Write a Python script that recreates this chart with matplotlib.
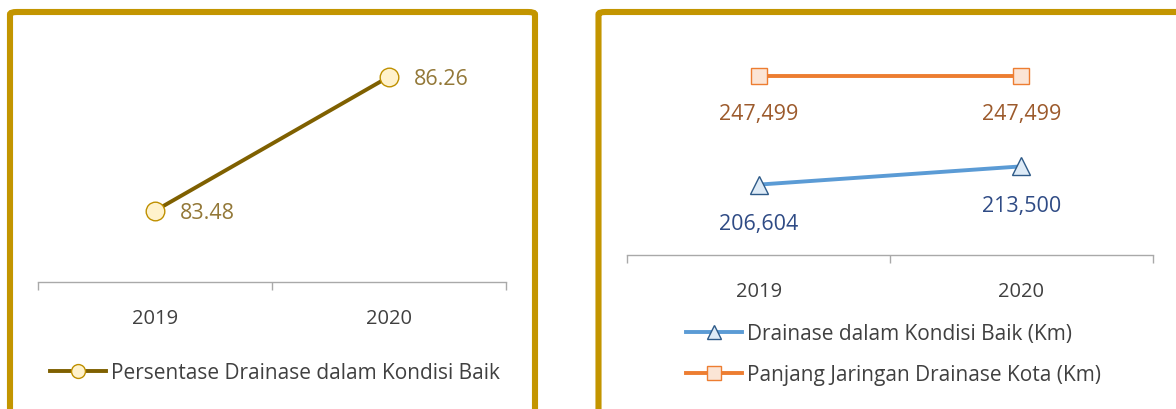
import matplotlib
matplotlib.use("Agg")
import matplotlib.pyplot as plt
from matplotlib.lines import Line2D
from matplotlib.patches import FancyBboxPatch

plt.rcParams['font.family'] = ['Open Sans', 'DejaVu Sans']

# data
tahun = ['2019', '2020']
persen_baik = [83.48, 86.26]
persen_label = ['83.48', '86.26']
drainase_baik = [206604, 213500]
drainase_baik_label = ['206,604', '213,500']
panjang_jaringan = [247499, 247499]
panjang_label = ['247,499', '247,499']

W, H = 1176, 410
fig = plt.figure(figsize=(W / 100, H / 100), dpi=100)

def fx(px):
    return px / W

def fy(py):
    return 1 - py / H

# gold frames round the two panels
gold = '#C39500'
for x0, x1 in [(10, 535), (598.5, 1200)]:
    box = FancyBboxPatch((fx(x0), fy(440)), fx(x1) - fx(x0), fy(13) - fy(440),
                         boxstyle='round,pad=0,rounding_size=0.006',
                         transform=fig.transFigure, fill=False,
                         edgecolor=gold, linewidth=4.4, clip_on=False)
    fig.patches.append(box)

axis_grey = '#A9A9A9'
tick_col = '#404040'

def style_axis(ax):
    for s in ['left', 'right', 'top']:
        ax.spines[s].set_visible(False)
    ax.spines['bottom'].set_color(axis_grey)
    ax.spines['bottom'].set_linewidth(1.0)
    ax.set_xlim(-0.5, 1.5)
    ax.set_xticks([0, 1])
    ax.set_xticklabels(tahun, fontsize=14.5, color=tick_col)
    ax.set_xticks([-0.5, 0.5, 1.5], minor=True)
    ax.tick_params(axis='x', which='major', length=0, pad=19)
    ax.tick_params(axis='x', which='minor', length=6, width=1.0, color=axis_grey, direction='out')
    ax.set_yticks([])
    ax.patch.set_alpha(0)

# ---- kiri: persentase
ax1 = fig.add_axes([fx(38.3), fy(283), fx(506) - fx(38.3), fy(42) - fy(283)])
style_axis(ax1)
ax1.set_ylim(82, 87)
ax1.plot([0, 1], persen_baik, color='#7F6000', linewidth=2.8, marker='o', markersize=13.4,
         markerfacecolor='#FFF2CC', markeredgecolor='#BF9000', markeredgewidth=1.0,
         solid_capstyle='round', clip_on=False)
for i, v in enumerate(persen_baik):
    ax1.annotate(persen_label[i], (i, v), xytext=(25, -2), textcoords='offset pixels',
                 ha='left', va='center', fontsize=15.5, color='#937838')
h1 = Line2D([], [], color='#7F6000', linewidth=2.8, marker='o', markersize=10,
            markerfacecolor='#FFF2CC', markeredgecolor='#BF9000', markeredgewidth=1.0)
fig.legend([h1], ['Persentase Drainase dalam Kondisi Baik'], loc='center left',
           bbox_to_anchor=(fx(50), fy(374)), frameon=False, fontsize=15,
           handlelength=2.7, handletextpad=0.25, borderpad=0, borderaxespad=0,
           labelcolor=tick_col)

# ---- kanan: panjang drainase
ax2 = fig.add_axes([fx(627.3), fy(256), fx(1152.7) - fx(627.3), fy(70.8) - fy(256)])
style_axis(ax2)
ax2.set_ylim(180000, 250000)
ax2.plot([0, 1], panjang_jaringan, color='#ED7D31', linewidth=2.8, marker='s', markersize=11.8,
         markerfacecolor='#FBE5D6', markeredgecolor='#ED7D31', markeredgewidth=1.0,
         clip_on=False)
ax2.plot([0, 1], drainase_baik, color='#5B9BD5', linewidth=2.8, marker='^', markersize=13.5,
         markerfacecolor='#DEEBF7', markeredgecolor='#2E5A88', markeredgewidth=1.0,
         clip_on=False)
for i, v in enumerate(panjang_jaringan):
    ax2.annotate(panjang_label[i], (i, v), xytext=(0, -37), textcoords='offset pixels',
                 ha='center', va='center', fontsize=15.5, color='#9C5A2C')
for i, v in enumerate(drainase_baik):
    ax2.annotate(drainase_baik_label[i], (i, v), xytext=(0, -39), textcoords='offset pixels',
                 ha='center', va='center', fontsize=15.5, color='#2F4B85')
h2 = Line2D([], [], color='#5B9BD5', linewidth=2.8, marker='^', markersize=10,
            markerfacecolor='#DEEBF7', markeredgecolor='#2E5A88', markeredgewidth=1.0)
h3 = Line2D([], [], color='#ED7D31', linewidth=2.8, marker='s', markersize=9.5,
            markerfacecolor='#FBE5D6', markeredgecolor='#ED7D31', markeredgewidth=1.0)
fig.legend([h2, h3], ['Drainase dalam Kondisi Baik (Km)', 'Panjang Jaringan Drainase Kota (Km)'],
           loc='center left', bbox_to_anchor=(fx(686), fy(355)), frameon=False, fontsize=15,
           handlelength=2.7, handletextpad=0.25, borderpad=0, borderaxespad=0,
           labelspacing=0.95, labelcolor=tick_col)

fig.savefig('out.png', dpi=100)
